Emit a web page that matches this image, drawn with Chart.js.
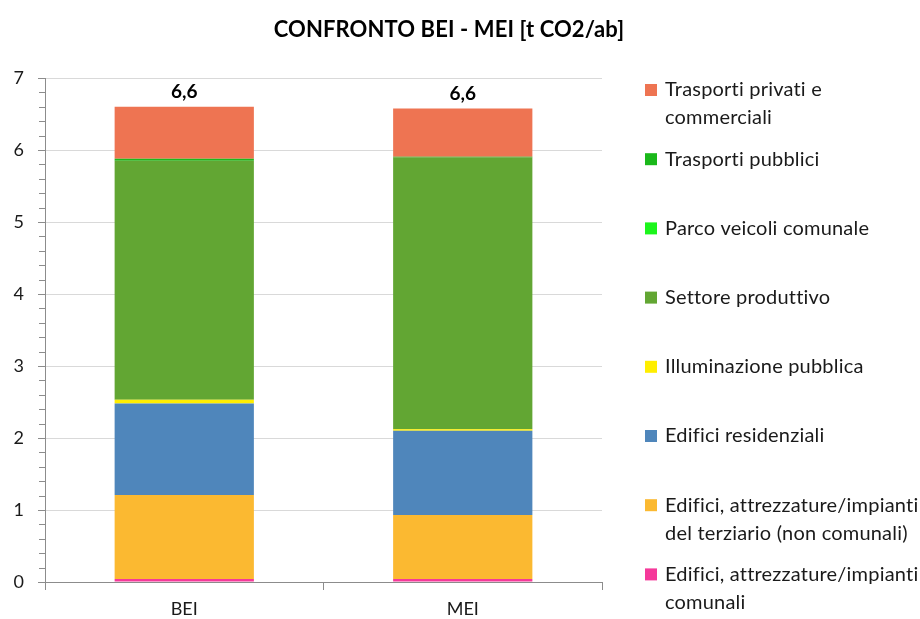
<!DOCTYPE html>
<html>
<head>
<meta charset="utf-8">
<script src="https://cdn.jsdelivr.net/npm/chart.js@4.4.0/dist/chart.umd.min.js"></script>
<style>
  body { margin: 0; background: #fff; }
  #wrap { width: 920px; height: 619px; }
</style>
</head>
<body>
<div id="wrap"><canvas id="myChart" width="920" height="619"></canvas></div>
<script>
// categories and series (stacked bottom -> top), t CO2 per inhabitant
const categorie = ['BEI', 'MEI'];
const titolo = 'CONFRONTO BEI - MEI [t CO2/ab]';
const settori = [
  'Edifici, attrezzature/impianti comunali',
  'Edifici, attrezzature/impianti del terziario (non comunali)',
  'Edifici residenziali',
  'Illuminazione pubblica',
  'Settore produttivo',
  'Parco veicoli comunale',
  'Trasporti pubblici',
  'Trasporti privati e commerciali'
];
// legend text split in lines as in the picture
const legendaRighe = [
  ['Edifici, attrezzature/impianti', 'comunali'],
  ['Edifici, attrezzature/impianti', 'del terziario (non comunali)'],
  ['Edifici residenziali'],
  ['Illuminazione pubblica'],
  ['Settore produttivo'],
  ['Parco veicoli comunale'],
  ['Trasporti pubblici'],
  ['Trasporti privati e', 'commerciali']
];
const comunali     = [0.04, 0.04];
const terziario    = [1.17, 0.89];
const residenziali = [1.27, 1.17];
const illuminazione = [0.05, 0.02];
const produttivo   = [3.32, 3.78];
const parcoVeicoli = [0.0, 0.0];
const pubblici     = [0.03, 0.005];
const privati      = [0.72, 0.67];
const colori = ['#F5399A', '#FBB931', '#4F86BB', '#FFEE00', '#62A633', '#1CF51C', '#1AB81A', '#EE7452'];
const yTicks = [0, 1, 2, 3, 4, 5, 6, 7];

const serie = [comunali, terziario, residenziali, illuminazione, produttivo, parcoVeicoli, pubblici, privati];
const FONT = 'Lato, "Noto Sans", sans-serif';

// title centred on the whole picture, not on the plot
const titoloPlugin = {
  id: 'titolo',
  afterDraw(chart) {
    const ctx = chart.ctx;
    ctx.save();
    ctx.font = 'bold 22px ' + FONT;
    ctx.letterSpacing = '0.1px';
    ctx.fillStyle = '#000';
    ctx.textAlign = 'center';
    ctx.textBaseline = 'middle';
    ctx.fillText(titolo, 449, 30);
    ctx.restore();
  }
};

// minor ticks on the y axis every 0.2
const minorTicks = {
  id: 'minorTicks',
  afterDraw(chart) {
    const y = chart.scales.y;
    const ctx = chart.ctx;
    ctx.save();
    ctx.strokeStyle = '#8c8c8c';
    ctx.lineWidth = 1;
    for (let v = 0; v <= 7.001; v += 0.2) {
      if (Math.abs(v - Math.round(v)) < 0.01) continue;
      const py = Math.round(y.getPixelForValue(v)) + 0.5;
      ctx.beginPath();
      ctx.moveTo(y.right - 6, py);
      ctx.lineTo(y.right, py);
      ctx.stroke();
    }
    ctx.restore();
  }
};

// totals above the bars
const totali = {
  id: 'totali',
  afterDatasetsDraw(chart) {
    const ctx = chart.ctx;
    const last = chart.getDatasetMeta(chart.data.datasets.length - 1);
    ctx.save();
    ctx.font = 'bold 19px ' + FONT;
    ctx.fillStyle = '#000';
    ctx.textAlign = 'center';
    ctx.textBaseline = 'bottom';
    categorie.forEach((c, i) => {
      const tot = serie.reduce((s, arr) => s + arr[i], 0);
      const bar = last.data[i];
      ctx.fillText(tot.toFixed(1).replace('.', ','), bar.x, chart.scales.y.getPixelForValue(tot) - 5);
    });
    ctx.restore();
  }
};

// legend on the right, top item = top of the stack
const legenda = {
  id: 'legenda',
  afterDraw(chart) {
    const ctx = chart.ctx;
    ctx.save();
    ctx.font = '20px ' + FONT;
    ctx.letterSpacing = '0.2px';
    ctx.textBaseline = 'middle';
    ctx.textAlign = 'left';
    const n = settori.length;
    for (let k = 0; k < n; k++) {
      const i = n - 1 - k;
      const yc = 90 + k * 69.2;
      ctx.fillStyle = colori[i];
      ctx.fillRect(645, yc - 6, 12, 12);
      ctx.fillStyle = '#1a1a1a';
      legendaRighe[i].forEach((t, j) => ctx.fillText(t, 665, yc + j * 28));
    }
    ctx.restore();
  }
};

const ctx = document.getElementById('myChart').getContext('2d');
new Chart(ctx, {
  type: 'bar',
  data: {
    labels: categorie,
    datasets: settori.map((s, i) => ({
      label: s,
      data: serie[i],
      backgroundColor: colori[i],
      borderWidth: 0,
      barPercentage: 0.5,
      categoryPercentage: 1.0
    }))
  },
  options: {
    responsive: false,
    animation: false,
    layout: { padding: { left: 0, right: 318, bottom: 0, top: 78 } },
    plugins: {
      legend: { display: false },
      tooltip: { enabled: false },
      title: { display: false }
    },
    scales: {
      x: {
        stacked: true,
        afterFit(scale) { scale.height = 37; },
        grid: { offset: true, drawOnChartArea: false, color: '#8c8c8c', tickLength: 8 },
        border: { color: '#8c8c8c' },
        ticks: { color: '#1a1a1a', font: { family: FONT, size: 18 }, padding: 8 }
      },
      y: {
        stacked: true,
        min: 0,
        max: 7,
        afterBuildTicks(scale) { scale.ticks = yTicks.map(v => ({ value: v })); },
        afterFit(scale) { scale.width = 45; },
        grid: { color: '#d9d9d9', tickColor: '#8c8c8c', tickLength: 7 },
        border: { color: '#8c8c8c' },
        ticks: { color: '#1a1a1a', font: { family: FONT, size: 18 }, padding: 14 }
      }
    }
  },
  plugins: [titoloPlugin, minorTicks, totali, legenda]
});
</script>
</body>
</html>
